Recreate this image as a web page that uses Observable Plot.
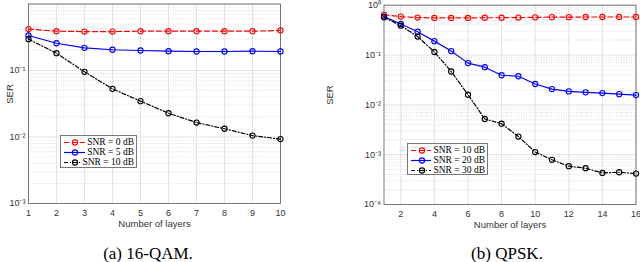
<!DOCTYPE html>
<html><head><meta charset="utf-8">
<script src="https://cdn.jsdelivr.net/npm/d3@7"></script>
<script src="https://cdn.jsdelivr.net/npm/@observablehq/plot@0.6"></script>
<style>
body{margin:0;background:#fff;}
#wrap{position:relative;width:640px;height:262px;overflow:hidden;}
.panel{position:absolute;top:0;}
.cap{position:absolute;font-family:"Liberation Serif","Times New Roman",serif;font-size:17px;line-height:17px;color:#000;white-space:nowrap;transform:translateX(-50%);}
.legend{position:absolute;background:#fff;border:1px solid #777;font-family:"Liberation Serif","Times New Roman",serif;font-size:9.5px;line-height:10px;color:#000;padding:1px 2px;box-sizing:border-box;}
.legend div{display:flex;align-items:center;height:10px;white-space:nowrap;}
.legend svg{margin-right:2px;}
</style></head><body><div id="wrap"></div>
<script>
// ---- Panel (a) 16-QAM ----
const layersA = [1, 2, 3, 4, 5, 6, 7, 8, 9, 10];
const qamSnr0 = [0.42, 0.39, 0.385, 0.385, 0.39, 0.39, 0.39, 0.39, 0.39, 0.40];
const qamSnr5 = [0.336, 0.257, 0.219, 0.205, 0.200, 0.195, 0.193, 0.193, 0.195, 0.193];
const qamSnr10 = [0.296, 0.182, 0.0955, 0.053, 0.0346, 0.0228, 0.0165, 0.0133, 0.0105, 0.0093];
const seriesNamesA = ["SNR = 0 dB", "SNR = 5 dB", "SNR = 10 dB"];
const xTicksA = [1, 2, 3, 4, 5, 6, 7, 8, 9, 10];
const yTicksA = [1e-3, 1e-2, 1e-1];

// ---- Panel (b) QPSK ----
const layersB = [1, 2, 3, 4, 5, 6, 7, 8, 9, 10, 11, 12, 13, 14, 15, 16];
const qpskSnr10 = [0.64, 0.59, 0.565, 0.555, 0.555, 0.555, 0.56, 0.56, 0.565, 0.57, 0.575, 0.575, 0.58, 0.58, 0.58, 0.58];
const qpskSnr20 = [0.59, 0.419, 0.293, 0.19, 0.12, 0.0688, 0.057, 0.0393, 0.0375, 0.0262, 0.0207, 0.0186, 0.0178, 0.0172, 0.0164, 0.0157];
const qpskSnr30 = [0.571, 0.388, 0.235, 0.115, 0.0467, 0.016, 0.0052, 0.00418, 0.00231, 0.00113, 0.000789, 0.000587, 0.000535, 0.00043, 0.000444, 0.000417];
const seriesNamesB = ["SNR = 10 dB", "SNR = 20 dB", "SNR = 30 dB"];
const xTicksB = [2, 4, 6, 8, 10, 12, 14, 16];
const yTicksB = [1e-4, 1e-3, 1e-2, 1e-1, 1];

const captions = ["(a) 16-QAM.", "(b) QPSK."];
const xLabel = "Number of layers";
const yLabel = "SER";

// styles (not data)
const styles = [
  {stroke: "#ff0000", dash: "5,3"},
  {stroke: "#0000ff", dash: null},
  {stroke: "#000000", dash: "4,2,1,2"}
];

const supMap = {"-": "\u207B", "0": "\u2070", "1": "\u00B9", "2": "\u00B2", "3": "\u00B3", "4": "\u2074"};
const fmt = d => "10" + String(Math.round(Math.log10(d))).split("").map(c => supMap[c]).join("");

function minorTicks(lo, hi) {
  const out = [];
  for (let e = lo; e < hi; e++) for (let m = 2; m <= 9; m++) out.push(m * Math.pow(10, e));
  return out;
}

function panel({xs, series, names, xDomain, xTicks, yDomain, yTicks, width, marginLeft, marginRight, marginTop, marginBottom, height}) {
  const data = [];
  series.forEach((vals, i) => vals.forEach((v, j) => data.push({x: xs[j], y: v, s: names[i], i})));
  const lo = Math.round(Math.log10(yDomain[0])), hi = Math.round(Math.log10(yDomain[1]));
  const majors = d3.range(lo, hi + 1).map(e => Math.pow(10, e));
  const marks = [
    Plot.ruleY(minorTicks(lo, hi), {stroke: "#cfcfcf", strokeDasharray: "1,1.5", strokeWidth: 0.7}),
    Plot.ruleY(majors, {stroke: "#e2e2e2", strokeWidth: 1}),
    Plot.ruleX(xTicks, {stroke: "#e2e2e2", strokeWidth: 1}),
    Plot.frame({stroke: "#6a6a6a", strokeWidth: 0.9}),
    Plot.axisX(xTicks, {anchor: "bottom", tickSize: 0, tickPadding: 6, tickFormat: d => String(d), fill: "#333", label: null}),
    Plot.axisY(yTicks, {anchor: "left", tickSize: 0, tickPadding: 3, tickFormat: fmt, fill: "#333", label: null}),
    Plot.text([xLabel], {frameAnchor: "bottom", lineAnchor: "middle", dy: 20, fontSize: 9.5, fill: "#333"}),
    Plot.text([yLabel], {frameAnchor: "left", dx: -marginLeft + 9, rotate: -90, fontSize: 9.5, fill: "#333"})
  ];
  names.forEach((n, i) => {
    const sub = data.filter(d => d.i === i);
    marks.push(Plot.line(sub, {x: "x", y: "y", stroke: styles[i].stroke, strokeWidth: 1.2, strokeDasharray: styles[i].dash || undefined}));
    marks.push(Plot.dot(sub, {x: "x", y: "y", r: 2.6, stroke: styles[i].stroke, strokeWidth: 1.1, fill: "none"}));
  });
  return Plot.plot({
    width, height, marginLeft, marginRight, marginTop, marginBottom,
    style: {fontFamily: "'Liberation Sans', Arial, sans-serif", fontSize: "9px", background: "transparent", overflow: "visible"},
    x: {domain: xDomain, label: null},
    y: {type: "log", domain: yDomain, label: null},
    marks
  });
}

function legend(names, left, top, w, h) {
  const el = document.createElement("div");
  el.className = "legend";
  Object.assign(el.style, {left: left + "px", top: top + "px", width: w + "px", height: h + "px"});
  names.forEach((n, i) => {
    const row = document.createElement("div");
    const st = styles[i];
    row.innerHTML = `<svg width="24" height="9"><line x1="1" y1="4.5" x2="23" y2="4.5" stroke="${st.stroke}" stroke-width="1.2" ${st.dash ? `stroke-dasharray="${st.dash}"` : ""}/><circle cx="12" cy="4.5" r="2.6" fill="none" stroke="${st.stroke}" stroke-width="1.1"/></svg><span>${n}</span>`;
    el.appendChild(row);
  });
  return el;
}

const wrap = document.getElementById("wrap");

const pA = panel({xs: layersA, series: [qamSnr0, qamSnr5, qamSnr10], names: seriesNamesA,
  xDomain: [1, 10], xTicks: xTicksA, yDomain: [1e-3, 1], yTicks: yTicksA,
  width: 300, height: 232, marginLeft: 28, marginRight: 20, marginTop: 3.5, marginBottom: 29});
const dA = document.createElement("div"); dA.className = "panel"; dA.style.left = "0px"; dA.appendChild(pA); wrap.appendChild(dA);

const pB = panel({xs: layersB, series: [qpskSnr10, qpskSnr20, qpskSnr30], names: seriesNamesB,
  xDomain: [1, 16], xTicks: xTicksB, yDomain: [1e-4, 1], yTicks: yTicksB,
  width: 320, height: 232, marginLeft: 63.5, marginRight: 4.5, marginTop: 4.7, marginBottom: 28});
const dB = document.createElement("div"); dB.className = "panel"; dB.style.left = "320px"; dB.appendChild(pB); wrap.appendChild(dB);

wrap.appendChild(legend(seriesNamesA, 60, 135, 77, 33));
wrap.appendChild(legend(seriesNamesB, 407, 143, 81, 32));

[[captions[0], 148], [captions[1], 507]].forEach(([t, cx]) => {
  const c = document.createElement("div");
  c.className = "cap"; c.textContent = t;
  c.style.left = cx + "px"; c.style.top = "245px";
  wrap.appendChild(c);
});
</script></body></html>
